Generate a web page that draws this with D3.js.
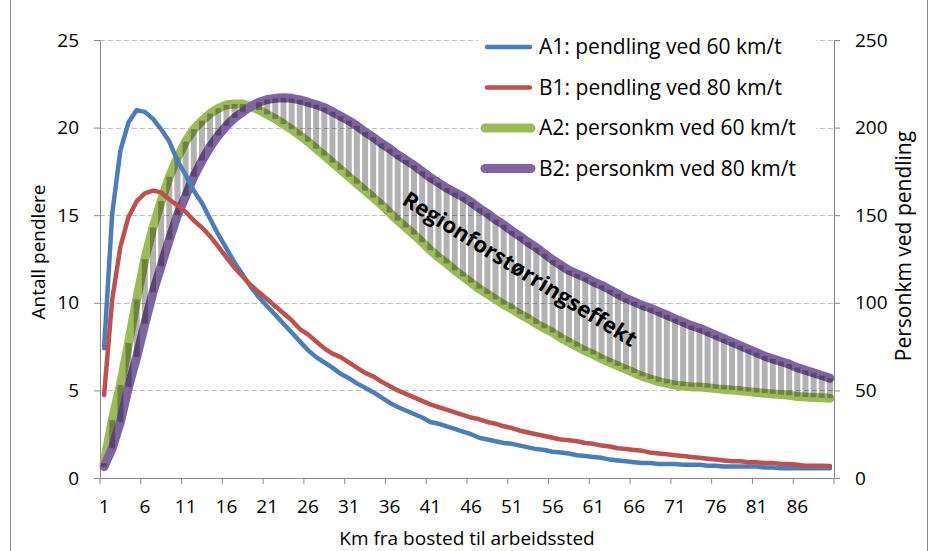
<!DOCTYPE html>
<html>
<head>
<meta charset="utf-8">
<script src="https://cdn.jsdelivr.net/npm/d3@7"></script>
<style>
    body { margin: 0; background: #fff; }
    svg text { font-family: "Open Sans", sans-serif; fill: #000; }
</style>
</head>
<body>
<svg id="chart" width="930" height="551"></svg>
<script>
// km from home to work (categories)
let km = d3.range(1, 91);

// A1: pendling ved 60 km/t (left axis)
let pendling60 = [7.4, 15.1, 18.7, 20.3, 21.0, 20.9, 20.5, 19.9, 19.2, 18.1,
    17.3, 16.4, 15.7, 14.8, 13.9, 13.1, 12.3, 11.6, 10.9, 10.3,
    9.8, 9.3, 8.8, 8.3, 7.8, 7.3, 6.9, 6.6, 6.3, 5.95,
    5.7, 5.4, 5.15, 4.9, 4.6, 4.3, 4.05, 3.85, 3.65, 3.45,
    3.2, 3.1, 2.95, 2.8, 2.65, 2.5, 2.3, 2.2, 2.1, 2.0,
    1.95, 1.85, 1.75, 1.65, 1.6, 1.5, 1.45, 1.4, 1.3, 1.25,
    1.2, 1.15, 1.05, 1.0, 0.95, 0.9, 0.85, 0.85, 0.8, 0.8,
    0.8, 0.75, 0.75, 0.75, 0.7, 0.7, 0.65, 0.65, 0.65, 0.65,
    0.65, 0.6, 0.6, 0.55, 0.55, 0.55, 0.55, 0.55, 0.55, 0.55];

// B1: pendling ved 80 km/t (left axis)
let pendling80 = [4.74, 10.2, 13.2, 14.9, 15.8, 16.25, 16.4, 16.3, 15.9, 15.55,
    15.2, 14.7, 14.3, 13.8, 13.2, 12.6, 12.0, 11.5, 11.0, 10.6,
    10.2, 9.8, 9.4, 9.0, 8.5, 8.2, 7.8, 7.4, 7.1, 6.9,
    6.6, 6.3, 6.0, 5.8, 5.5, 5.25, 5.0, 4.8, 4.6, 4.4,
    4.2, 4.05, 3.9, 3.75, 3.6, 3.45, 3.35, 3.2, 3.1, 2.95,
    2.85, 2.7, 2.6, 2.5, 2.4, 2.3, 2.2, 2.15, 2.1, 2.0,
    1.95, 1.85, 1.8, 1.7, 1.65, 1.6, 1.55, 1.45, 1.4, 1.35,
    1.3, 1.25, 1.2, 1.15, 1.1, 1.05, 1.0, 0.95, 0.95, 0.9,
    0.9, 0.85, 0.85, 0.8, 0.8, 0.75, 0.7, 0.7, 0.7, 0.68];

// A2: personkm ved 60 km/t (right axis)
let personkm60 = [8.4, 33, 53, 77, 102, 125, 143, 158, 172, 183,
    192, 199, 204, 208, 211, 213, 213.5, 213.5, 212, 210,
    207.5, 205, 202, 199, 195.5, 192, 188, 184, 180, 176,
    172, 168, 164, 160, 156, 151.5, 147, 143, 139, 134.5,
    130, 126, 122.5, 118.5, 115, 111.5, 108, 105, 102, 99,
    96.5, 93.5, 91, 88, 85.5, 83, 80, 77.5, 75, 72.5,
    70.5, 68, 66, 64, 62, 60, 58, 56.5, 55, 54,
    53, 52.5, 52, 52, 51.5, 51, 50.5, 50.2, 49.8, 49.3,
    48.8, 48.4, 48, 47.6, 47.2, 46.5, 46.2, 46, 45.8, 45.5];

// B2: personkm ved 80 km/t (right axis)
let personkm80 = [6.5, 17, 32, 52, 69, 88, 106, 121, 136, 150,
    161, 172, 181, 189, 195.5, 201, 205.5, 209, 212, 214.5,
    216, 216.7, 217, 216.7, 215.8, 214.5, 213, 211.5, 209, 206.5,
    204, 201, 197.5, 194.5, 191, 188, 184.5, 181.5, 178.5, 175,
    171.5, 168.5, 165.5, 163, 160.5, 157.5, 154, 151, 147.5, 144.5,
    141, 138, 134.5, 131.5, 128, 124.5, 121.5, 118.5, 116.5, 114.5,
    112, 110, 107.5, 105, 102.5, 100.5, 98.5, 97, 95, 93,
    91, 89, 87, 85.5, 83.5, 81.5, 79.5, 77.5, 75.5, 73.5,
    71.5, 69.5, 68, 66.5, 65, 63, 61.5, 60, 58.5, 57];

let leftTicks = [0, 5, 10, 15, 20, 25];
let rightTicks = [0, 50, 100, 150, 200, 250];
let xLabels = [1, 6, 11, 16, 21, 26, 31, 36, 41, 46, 51, 56, 61, 66, 71, 76, 81, 86];

let legendNames = ['A1: pendling ved 60 km/t', 'B1: pendling ved 80 km/t',
    'A2: personkm ved 60 km/t', 'B2: personkm ved 80 km/t'];
let colors = ['#4a7ebb', '#c0504d', '#9bbb59', '#8064a2'];

let svg = d3.select('#chart');
let plotLeft = 100, plotRight = 834, plotTop = 40, plotBottom = 478;

let x = d3.scaleBand().domain(km).range([plotLeft, plotRight]).padding(0);
let cx = d => x(d) + x.bandwidth() / 2;
let yL = d3.scaleLinear().domain([0, 25]).range([plotBottom, plotTop]);
let yR = d3.scaleLinear().domain([0, 250]).range([plotBottom, plotTop]);

// outer frame
svg.append('rect')
    .attr('x', 10.5).attr('y', -5)
    .attr('width', 917).attr('height', 570)
    .attr('fill', 'none').attr('stroke', '#8c8c8c');

// gridlines
svg.append('g')
    .selectAll('line')
    .data(leftTicks.slice(1))
    .enter()
    .append('line')
    .attr('x1', plotLeft).attr('x2', plotRight)
    .attr('y1', d => Math.round(yL(d)) + 0.5)
    .attr('y2', d => Math.round(yL(d)) + 0.5)
    .attr('stroke', '#bdbdbd')
    .attr('stroke-dasharray', '5,3');

// axes
let styleAxis = g => {
    g.select('.domain').attr('stroke', '#868686');
    g.selectAll('.tick line').attr('stroke', '#868686');
    g.selectAll('text').style('font-size', '19px').attr('fill', '#000');
};

svg.append('g')
    .attr('transform', 'translate(' + plotLeft + ',0)')
    .call(d3.axisLeft(yL).tickValues(leftTicks).tickSize(6).tickSizeOuter(0).tickPadding(15))
    .call(styleAxis);

svg.append('g')
    .attr('transform', 'translate(' + plotRight + ',0)')
    .call(d3.axisRight(yR).tickValues(rightTicks).tickSize(6).tickSizeOuter(0).tickPadding(15))
    .call(styleAxis);

let xAxis = svg.append('g')
    .attr('transform', 'translate(0,' + plotBottom + ')')
    .call(d3.axisBottom(x).tickValues(xLabels).tickSize(0).tickPadding(22))
    .call(styleAxis);
// tick marks sit on category boundaries
xAxis.selectAll('.boundary')
    .data(xLabels.concat([null]))
    .enter()
    .append('line')
    .attr('class', 'boundary')
    .attr('x1', d => (d === null ? plotRight : x(d)))
    .attr('x2', d => (d === null ? plotRight : x(d)))
    .attr('y1', 0).attr('y2', 6)
    .attr('stroke', '#868686');

// axis titles
svg.append('text')
    .attr('transform', 'translate(45,252) rotate(-90)')
    .attr('text-anchor', 'middle')
    .style('font-size', '19px')
    .text('Antall pendlere');
svg.append('text')
    .attr('transform', 'translate(911,246) rotate(-90)')
    .attr('text-anchor', 'middle')
    .style('font-size', '21px')
    .text('Personkm ved pendling');
svg.append('text')
    .attr('x', 467).attr('y', 545)
    .attr('text-anchor', 'middle')
    .style('font-size', '19px')
    .text('Km fra bosted til arbeidssted');

// series lines
let lineL = d3.line().x((d, i) => cx(km[i])).y(d => yL(d));
let lineR = d3.line().x((d, i) => cx(km[i])).y(d => yR(d));

let drawLine = (values, line, color, width) => {
    svg.append('path')
        .datum(values)
        .attr('d', line)
        .attr('fill', 'none')
        .attr('stroke', color)
        .attr('stroke-width', width)
        .attr('stroke-linejoin', 'round')
        .attr('stroke-linecap', 'round');
};

drawLine(personkm60, lineR, colors[2], 9);
drawLine(personkm80, lineR, colors[3], 9);

// up/down bars between A2 and B2
svg.append('g')
    .selectAll('rect')
    .data(km)
    .enter()
    .append('rect')
    .attr('x', d => cx(d) - 3)
    .attr('width', 6)
    .attr('y', (d, i) => yR(Math.max(personkm60[i], personkm80[i])))
    .attr('height', (d, i) => Math.abs(yR(personkm60[i]) - yR(personkm80[i])))
    .attr('fill', '#000')
    .attr('fill-opacity', 0.3);

drawLine(pendling60, lineL, colors[0], 4.5);
drawLine(pendling80, lineL, colors[1], 4.5);

// annotation
svg.append('text')
    .attr('transform', 'translate(520,269) rotate(32)')
    .attr('text-anchor', 'middle')
    .attr('dy', '0.35em')
    .style('font-size', '22px')
    .style('font-weight', 'bold')
    .text('Regionforstørringseffekt');

// legend
let legend = svg.append('g');
legend.append('rect')
    .attr('x', 478).attr('y', 26)
    .attr('width', 338).attr('height', 162)
    .attr('fill', '#fff');
let items = legend.selectAll('.item')
    .data(legendNames)
    .enter()
    .append('g')
    .attr('class', 'item')
    .attr('transform', (d, i) => 'translate(0,' + (47 + i * 40.5) + ')');
items.append('line')
    .attr('x1', (d, i) => (i < 2 ? 487 : 485))
    .attr('x2', (d, i) => (i < 2 ? 530 : 531))
    .attr('stroke', (d, i) => colors[i])
    .attr('stroke-width', (d, i) => (i < 2 ? 4.5 : 9))
    .attr('stroke-linecap', 'round');
items.append('text')
    .attr('x', 539)
    .attr('dy', '0.35em')
    .style('font-size', '21px')
    .text(d => d);
</script>
</body>
</html>
